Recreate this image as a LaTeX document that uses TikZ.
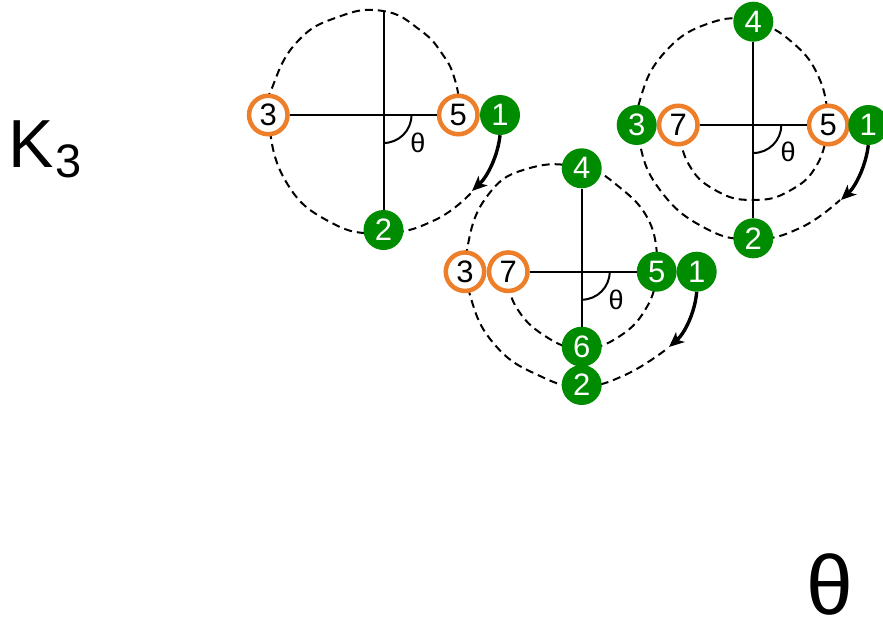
\documentclass[tikz,border=0pt]{standalone}
\usepackage{fontspec}
\setmainfont{Liberation Sans}
\usetikzlibrary{arrows.meta}
\definecolor{ngreen}{RGB}{0,140,0}
\definecolor{norange}{RGB}{238,127,42}
\begin{document}
\begin{tikzpicture}[x=1pt,y=-1pt,
 gnode/.style={circle,fill=ngreen,text=white,minimum size=40pt,inner sep=0pt,font=\fontsize{31}{31}\selectfont},
 onode/.style={circle,draw=norange,line width=4.5pt,fill=white,text=black,minimum size=38.5pt,inner sep=0pt,font=\fontsize{31}{31}\selectfont},
 orbit/.style={dash pattern=on 8pt off 5pt,line width=2pt},
 axisline/.style={line width=2pt},
 rot/.style={line width=3.4pt,-{Stealth[length=15pt,width=13pt,inset=4pt]}},
 anglab/.style={font=\fontsize{27}{27}\selectfont}]
\useasboundingbox (0,0) rectangle (883,624);

% ---------- orbits ----------
\draw[orbit] plot[smooth,tension=0.8] coordinates {(460,108) (455,80) (443,55) (420,30) (383,11) (338,17) (297,42) (272,88) (268,115) (285,180) (330,222) (383,233) (435,220) (472,192)};
\draw[orbit] plot[smooth,tension=0.8] coordinates {(657,268) (650,223) (618,186) (582,168) (530,168) (488,195) (467,250) (470,295) (495,345) (540,376) (582,386) (625,375) (668,348)};
\draw[orbit] plot[smooth,tension=0.8] coordinates {(508,272) (515,305) (545,336) (582,348) (620,336) (648,305) (657,272)};
\draw[orbit] plot[smooth,tension=0.8] coordinates {(828,122) (820,80) (793,43) (753,22) (710,23) (665,52) (640,100) (639,140) (660,190) (705,228) (753,239) (800,228) (840,200)};
\draw[orbit] plot[smooth,tension=0.8] coordinates {(678,125) (688,163) (715,190) (753,200) (791,190) (818,163) (828,125)};

% ---------- diagram 1 ----------
\coordinate (c1) at (383.5,115);
\coordinate (t1) at (383.5,11);
\node[onode] (a3) at (268.3,115) {3};
\node[onode] (a5) at (458.3,115) {5};
\node[gnode] (a1) at (500,115) {1};
\node[gnode] (a2) at (383.5,230) {2};
\draw[axisline] (a3) -- (a5);
\draw[axisline] (t1) -- (a2);
\draw[axisline] (c1) ++(28,0) arc[start angle=0,end angle=90,radius=28];
\node[anglab] (th1) at (418,143) {θ};
\coordinate (e1) at (472,191);
\draw[rot] (a1.south) .. controls (498,155) and (488,176) .. (e1);

% ---------- diagram 2 ----------
\coordinate (c2) at (581.7,271.7);
\node[gnode] (b4) at (581.7,168.3) {4};
\node[onode] (b3) at (465,271.7) {3};
\node[onode] (b7) at (508.3,271.7) {7};
\node[gnode] (b5) at (656.7,271.7) {5};
\node[gnode] (b1) at (696.7,271.7) {1};
\node[gnode] (b6) at (581.7,346.7) {6};
\node[gnode] (b2) at (581.7,385) {2};
\draw[axisline] (b7) -- (b5);
\draw[axisline] (b4) -- (b6);
\draw[axisline] (c2) ++(28,0) arc[start angle=0,end angle=90,radius=28];
\node[anglab] (th2) at (616,300) {θ};
\coordinate (e2) at (669,347);
\draw[rot] (b1.south) .. controls (695,312) and (685,333) .. (e2);

% ---------- diagram 3 ----------
\coordinate (c3) at (753.3,125);
\node[gnode] (d4) at (753.3,21.7) {4};
\node[gnode] (d3) at (636.7,125) {3};
\node[onode] (d7) at (678.3,125) {7};
\node[onode] (d5) at (828.3,125) {5};
\node[gnode] (d1) at (868.3,125) {1};
\node[gnode] (d2) at (753.3,238.3) {2};
\draw[axisline] (d7) -- (d5);
\draw[axisline] (d4) -- (d2);
\draw[axisline] (c3) ++(28,0) arc[start angle=0,end angle=90,radius=28];
\node[anglab] (th3) at (788,152) {θ};
\coordinate (e3) at (841,200);
\draw[rot] (d1.south) .. controls (866,165) and (856,186) .. (e3);

% ---------- labels ----------
\node[anchor=base west,inner sep=0pt] (k3) at (8,167) {\fontsize{68}{68}\selectfont K\kern2pt\raisebox{-10pt}{\fontsize{47}{47}\selectfont 3}};
\node[anchor=base west,inner sep=0pt] (bigtheta) at (806,614) {\fontsize{84}{84}\selectfont θ};
\end{tikzpicture}
\end{document}
